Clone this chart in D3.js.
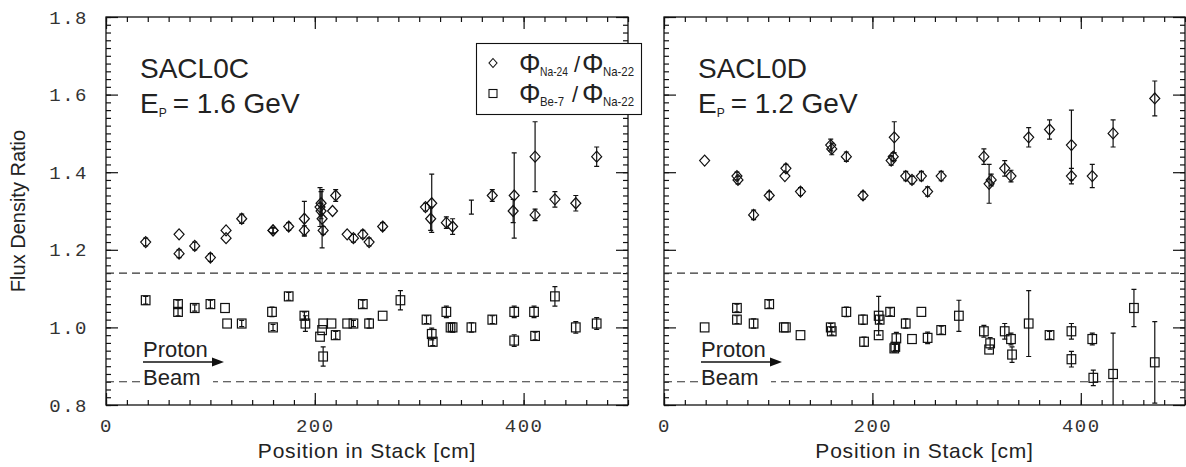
<!DOCTYPE html>
<html>
<head>
<meta charset="utf-8">
<script src="https://cdn.jsdelivr.net/npm/d3@7"></script>
<style>
  body { margin: 0; background: #fff; }
  svg text { font-family: "Liberation Sans", Arial, sans-serif; fill: #222; }
  .tick text { font-family: "Liberation Mono", monospace; font-size: 19px; letter-spacing: 1.5px; fill: #333; }
</style>
</head>
<body>
<div id="chart"></div>
<script>
// [position cm, ratio, error]   error 0 -> no bar drawn
const leftNa24 = [
  [38,1.22,0.01],[70,1.24,0],[70,1.19,0.01],[85,1.21,0.01],[100,1.18,0.01],[115,1.25,0],[115,1.23,0],
  [130,1.28,0.012],[160,1.25,0.008],[160,1.25,0.006],[175,1.26,0.01],[190,1.28,0.045],[190,1.25,0.012],
  [205,1.31,0.05],[206,1.32,0.03],[206,1.30,0.02],[207,1.28,0.075],[208,1.25,0.01],[217,1.30,0],
  [220,1.34,0.015],[231,1.24,0],[237,1.23,0.01],[246,1.24,0.01],[252,1.22,0.01],[265,1.26,0.01],
  [306,1.31,0.01],[312,1.32,0.075],[311,1.28,0.03],[326,1.27,0.015],[332,1.26,0.02],[370,1.34,0.015],
  [391,1.34,0.11],[390,1.30,0.03],[411,1.44,0.09],[411,1.29,0.015],[430,1.33,0.02],[450,1.32,0.02],
  [470,1.44,0.025]
];
const leftBe7 = [
  [38,1.07,0.01],[69,1.06,0.01],[69,1.04,0.01],[85,1.05,0.008],[100,1.06,0.01],[114,1.05,0],[116,1.01,0],
  [130,1.01,0.008],[159,1.04,0.012],[160,1.00,0.008],[175,1.08,0.01],[190,1.03,0.01],[191,1.01,0.02],
  [205,0.976,0],[207,0.993,0],[208,1.01,0],[208,0.925,0.025],[216,1.01,0],[220,0.98,0.01],[231,1.01,0],
  [237,1.01,0.008],[246,1.06,0.01],[252,1.01,0.012],[265,1.03,0],[282,1.07,0.025],[307,1.02,0.01],
  [312,0.983,0.015],[313,0.963,0.01],[326,1.04,0.015],[330,1.00,0.01],[332,1.00,0.012],[350,1.00,0.012],
  [370,1.02,0.01],[391,1.04,0.015],[391,0.966,0.015],[410,1.04,0.015],[411,0.978,0.01],[430,1.08,0.025],
  [450,1.00,0.015],[470,1.01,0.015]
];
// error bar without a marker
const leftBarsOnly = [[350,1.31,0.018]];

const rightNa24 = [
  [39,1.43,0],[70,1.39,0.01],[71,1.38,0.01],[86,1.29,0.012],[101,1.34,0.01],[116,1.39,0],[117,1.41,0.01],
  [131,1.35,0.01],[160,1.47,0.015],[161,1.46,0.015],[175,1.44,0.012],[191,1.34,0.01],[218,1.43,0.012],
  [220,1.44,0.01],[221,1.49,0.04],[232,1.39,0.012],[238,1.38,0.01],[247,1.39,0.012],[253,1.35,0.012],
  [266,1.39,0.012],[307,1.44,0.02],[312,1.37,0.05],[314,1.38,0.015],[327,1.41,0.02],[333,1.39,0.015],
  [350,1.49,0.025],[370,1.51,0.025],[391,1.47,0.09],[391,1.39,0.02],[411,1.39,0.03],[431,1.50,0.035],
  [471,1.59,0.045]
];
const rightBe7 = [
  [39,1.00,0],[70,1.05,0.01],[70,1.02,0.01],[86,1.01,0.012],[101,1.06,0.01],[115,1.00,0],[117,1.00,0],
  [131,0.98,0],[160,1.00,0.01],[161,0.99,0.01],[175,1.04,0.012],[191,1.02,0.012],[192,0.963,0.012],
  [206,1.03,0.05],[207,1.02,0.01],[206,0.98,0],[217,1.04,0.01],[221,0.946,0.01],[222,0.95,0.01],
  [223,0.972,0.015],[232,1.01,0.012],[238,0.97,0],[247,1.04,0],[253,0.973,0.015],[266,0.993,0.01],
  [283,1.03,0.04],[307,0.99,0.015],[313,0.959,0.015],[312,0.943,0],[327,0.99,0.02],[333,0.97,0.015],
  [334,0.93,0.02],[350,1.01,0.085],[370,0.98,0.01],[391,0.99,0.02],[391,0.918,0.02],[411,0.97,0.015],
  [412,0.87,0.02],[431,0.88,0.105],[451,1.05,0.048],[471,0.91,0.105]
];
const rightBarsOnly = [];

const panelNames = ["SACL0C", "SACL0D"];
const beamEnergies = ["1.6", "1.2"];
const cutLevels = [1.14, 0.86];
const xMajorTicks = [0, 200, 400];
const yMajorTicks = [0.8, 1.0, 1.2, 1.4, 1.6, 1.8];
const xDomain = [0, 500], yDomain = [0.8, 1.8];
const legendRows = [["Na-24", "Na-22"], ["Be-7", "Na-22"]];

const W = 1186, H = 467;
const yTop = 17, yBot = 405;
const xMinorTicks = d3.range(0, 501, 20);
const yMinorTicks = d3.range(0, 51).map(i => 0.8 + i * 0.02);

const svg = d3.select("#chart").append("svg")
  .attr("width", W).attr("height", H);

const y = d3.scaleLinear().domain(yDomain).range([yBot, yTop]);

const panels = [
  { x0: 106, x1: 628, na: leftNa24, be: leftBe7, bars: leftBarsOnly, labels: true },
  { x0: 664, x1: 1185, na: rightNa24, be: rightBe7, bars: rightBarsOnly, labels: false }
];

svg.append("text")
  .attr("transform", `translate(25,${(yTop + yBot) / 2}) rotate(-90)`)
  .attr("text-anchor", "middle")
  .style("font-size", "20px")
  .text("Flux Density Ratio");

panels.forEach((p, i) => {
  const x = d3.scaleLinear().domain(xDomain).range([p.x0, p.x1]);
  const g = svg.append("g");

  g.append("clipPath").attr("id", "clip" + i)
    .append("rect").attr("x", p.x0).attr("y", yTop).attr("width", p.x1 - p.x0).attr("height", yBot - yTop);

  // axes, ticks pointing inward
  const addAxis = (axis, tr) => {
    const a = g.append("g").attr("transform", tr).call(axis);
    a.select(".domain").remove();
    a.selectAll(".tick line").attr("stroke", "#111").attr("stroke-width", 1.2);
    return a;
  };
  addAxis(d3.axisBottom(x).tickValues(xMinorTicks).tickSize(-5).tickFormat(""), `translate(0,${yBot})`);
  addAxis(d3.axisBottom(x).tickValues(xMajorTicks).tickSize(-12).tickPadding(14).tickFormat(d3.format("d")), `translate(0,${yBot})`);
  addAxis(d3.axisTop(x).tickValues(xMinorTicks).tickSize(-5).tickFormat(""), `translate(0,${yTop})`);
  addAxis(d3.axisTop(x).tickValues(xMajorTicks).tickSize(-12).tickFormat(""), `translate(0,${yTop})`);
  addAxis(d3.axisLeft(y).tickValues(yMinorTicks).tickSize(-5).tickFormat(""), `translate(${p.x0},0)`);
  addAxis(d3.axisLeft(y).tickValues(yMajorTicks).tickSize(-12).tickPadding(18)
    .tickFormat(p.labels ? d3.format(".1f") : ""), `translate(${p.x0},0)`);
  addAxis(d3.axisRight(y).tickValues(yMinorTicks).tickSize(-5).tickFormat(""), `translate(${p.x1},0)`);
  addAxis(d3.axisRight(y).tickValues(yMajorTicks).tickSize(-12).tickFormat(""), `translate(${p.x1},0)`);

  g.append("rect")
    .attr("x", p.x0).attr("y", yTop).attr("width", p.x1 - p.x0).attr("height", yBot - yTop)
    .attr("fill", "none").attr("stroke", "#111").attr("stroke-width", 1.3);

  // dashed cut lines
  g.selectAll(".cut").data(cutLevels).enter().append("line")
    .attr("x1", p.x0).attr("x2", p.x1)
    .attr("y1", d => y(d)).attr("y2", d => y(d))
    .attr("stroke", "#333").attr("stroke-width", 1.1).attr("stroke-dasharray", "8,5");

  // labels
  g.append("text").attr("x", p.x0 + 34).attr("y", 78).style("font-size", "28px").text(panelNames[i]);
  const e = g.append("text").attr("x", p.x0 + 34).attr("y", 113).style("font-size", "28px");
  e.append("tspan").text("E");
  e.append("tspan").attr("dy", 4).style("font-size", "12px").text("P");
  e.append("tspan").attr("dy", -4).attr("dx", 6).text("= " + beamEnergies[i] + " GeV");

  // proton beam arrow
  g.append("rect").attr("x", p.x0 + 35).attr("y", 366).attr("width", 72).attr("height", 26).attr("fill", "#fff");
  g.append("text").attr("x", p.x0 + 37).attr("y", 357).style("font-size", "22px").text("Proton");
  g.append("text").attr("x", p.x0 + 37).attr("y", 385).style("font-size", "22px").text("Beam");
  g.append("line").attr("x1", p.x0 + 37).attr("x2", p.x0 + 108).attr("y1", 362).attr("y2", 362)
    .attr("stroke", "#111").attr("stroke-width", 1.6);
  g.append("path")
    .attr("d", `M${p.x0 + 118},362 L${p.x0 + 106},357.5 L${p.x0 + 106},366.5 Z`)
    .attr("fill", "#111");

  // error bars and markers
  const data = g.append("g").attr("clip-path", `url(#clip${i})`);
  const withBars = p.na.concat(p.be, p.bars).filter(d => d[2] > 0);
  withBars.forEach(d => {
    const cx = x(d[0]), y1 = y(d[1] + d[2]), y2 = y(d[1] - d[2]);
    data.append("path")
      .attr("d", `M${cx},${y1}V${y2}M${cx - 2.5},${y1}H${cx + 2.5}M${cx - 2.5},${y2}H${cx + 2.5}`)
      .attr("stroke", "#111").attr("stroke-width", 1.2).attr("fill", "none");
  });
  data.selectAll(".dia").data(p.na).enter().append("path")
    .attr("d", d => {
      const cx = x(d[0]), cy = y(d[1]);
      return `M${cx},${cy - 5.5}L${cx + 5},${cy}L${cx},${cy + 5.5}L${cx - 5},${cy}Z`;
    })
    .attr("fill", "none").attr("stroke", "#111").attr("stroke-width", 1.2);
  data.selectAll(".sq").data(p.be).enter().append("rect")
    .attr("x", d => x(d[0]) - 4.3).attr("y", d => y(d[1]) - 4.5)
    .attr("width", 8.6).attr("height", 9)
    .attr("fill", "none").attr("stroke", "#111").attr("stroke-width", 1.2);

  // axis title
  g.append("text").attr("x", (p.x0 + p.x1) / 2).attr("y", 458)
    .attr("text-anchor", "middle").style("font-size", "21px").style("letter-spacing", "0.8px")
    .text("Position in Stack [cm]");
});

// legend (left panel)
const lg = svg.append("g");
lg.append("rect").attr("x", 476.5).attr("y", 43.5).attr("width", 165).attr("height", 71)
  .attr("fill", "#fff").attr("stroke", "#111").attr("stroke-width", 1.1);
lg.append("path").attr("d", "M493,58.5L497,63L493,67.5L489,63Z")
  .attr("fill", "none").attr("stroke", "#111").attr("stroke-width", 1.1);
lg.append("rect").attr("x", 489).attr("y", 89.5).attr("width", 8).attr("height", 8)
  .attr("fill", "none").attr("stroke", "#111").attr("stroke-width", 1.1);
legendRows.forEach((r, k) => {
  const by = 73 + k * 30;
  lg.append("text").attr("x", 519).attr("y", by).style("font-size", "27px").text("Φ");
  lg.append("text").attr("x", 540).attr("y", by + 3).style("font-size", "13px")
    .attr("textLength", k ? 24 : 28).attr("lengthAdjust", "spacingAndGlyphs").text(r[0]);
  lg.append("text").attr("x", k ? 572 : 574).attr("y", by - 1).style("font-size", "22px").style("font-weight", "300").text("/");
  lg.append("text").attr("x", 582).attr("y", by).style("font-size", "27px").text("Φ");
  lg.append("text").attr("x", 603).attr("y", by + 3).style("font-size", "13px")
    .attr("textLength", 31).attr("lengthAdjust", "spacingAndGlyphs").text(r[1]);
});
</script>
</body>
</html>
